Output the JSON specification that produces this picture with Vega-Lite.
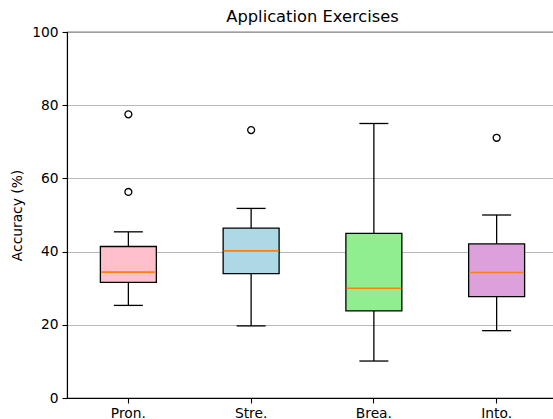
{
  "$schema": "https://vega.github.io/schema/vega-lite/v6.json",
  "width": 491,
  "height": 366,
  "autosize": {"type": "none"},
  "padding": {"left": 67, "top": 32, "right": 0, "bottom": 21},
  "background": "white",
  "title": {"text": "Application Exercises", "fontSize": 16.3, "fontWeight": "normal", "font": "DejaVu Sans", "color": "black", "offset": 0},
  "datasets": {
    "stats": [
      {"cat": "Pron.", "low": 25.3, "q1": 31.6, "median": 34.4, "q3": 41.4, "high": 45.4},
      {"cat": "Stre.", "low": 19.7, "q1": 34.0, "median": 40.2, "q3": 46.4, "high": 51.8},
      {"cat": "Brea.", "low": 10.1, "q1": 23.8, "median": 30.0, "q3": 45.0, "high": 75.0},
      {"cat": "Into.", "low": 18.4, "q1": 27.7, "median": 34.3, "q3": 42.1, "high": 50.0}
    ],
    "outliers": [
      {"cat": "Pron.", "value": 77.5},
      {"cat": "Pron.", "value": 56.3},
      {"cat": "Stre.", "value": 73.2},
      {"cat": "Into.", "value": 71.1}
    ]
  },
  "data": {"name": "stats"},
  "encoding": {
    "x": {
      "field": "cat", "type": "nominal",
      "scale": {"domain": ["Pron.", "Stre.", "Brea.", "Into."], "paddingInner": 0, "paddingOuter": 0},
      "axis": {"title": null, "labelAngle": 0, "labelFontSize": 13.8, "tickSize": 5, "labelPadding": 3, "grid": false}
    }
  },
  "layer": [
    {
      "mark": {"type": "rule", "color": "black", "strokeWidth": 1.3},
      "encoding": {
        "y": {"field": "low", "type": "quantitative", "scale": {"domain": [0, 100], "nice": false, "zero": false},
          "axis": {"title": "Accuracy (%)", "values": [0, 20, 40, 60, 80, 100], "labelFontSize": 13.8, "titleFontSize": 13.8, "titleFontWeight": "normal", "titlePadding": 7, "tickSize": 5, "labelPadding": 4, "grid": true, "gridColor": "#b0b0b0", "gridWidth": 0.9}},
        "y2": {"field": "high"}
      }
    },
    {
      "mark": {"type": "bar", "width": {"band": 0.456}, "stroke": "black", "strokeWidth": 1.3, "opacity": 1},
      "encoding": {
        "y": {"field": "q1", "type": "quantitative"},
        "y2": {"field": "q3"},
        "fill": {"field": "cat", "type": "nominal", "legend": null,
          "scale": {"domain": ["Pron.", "Stre.", "Brea.", "Into."], "range": ["#ffc0cb", "#add8e6", "#90ee90", "#dda0dd"]}}
      }
    },
    {
      "mark": {"type": "tick", "color": "#ff7f0e", "size": 55, "thickness": 1.6, "opacity": 1},
      "encoding": {"y": {"field": "median", "type": "quantitative"}}
    },
    {
      "mark": {"type": "tick", "color": "black", "size": 29, "thickness": 1.3, "opacity": 1},
      "encoding": {"y": {"field": "low", "type": "quantitative"}}
    },
    {
      "mark": {"type": "tick", "color": "black", "size": 29, "thickness": 1.3, "opacity": 1},
      "encoding": {"y": {"field": "high", "type": "quantitative"}}
    },
    {
      "data": {"name": "outliers"},
      "mark": {"type": "point", "shape": "circle", "filled": false, "color": "black", "size": 48, "strokeWidth": 1.3, "opacity": 1},
      "encoding": {"y": {"field": "value", "type": "quantitative"}}
    }
  ],
  "config": {
    "font": "DejaVu Sans",
    "view": {"stroke": "black", "strokeWidth": 1.1},
    "axis": {"domainColor": "black", "tickColor": "black", "labelColor": "black", "titleColor": "black", "domainWidth": 1.1, "tickWidth": 1.1, "labelFont": "DejaVu Sans", "titleFont": "DejaVu Sans"}
  }
}
